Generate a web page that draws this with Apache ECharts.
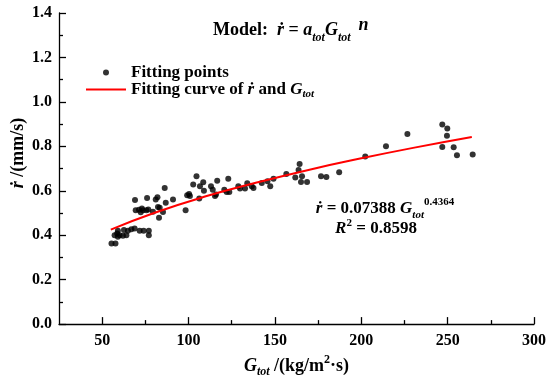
<!DOCTYPE html>
<html><head><meta charset="utf-8">
<script src="https://cdn.jsdelivr.net/npm/echarts@6/dist/echarts.min.js"></script>
<style>html,body{margin:0;padding:0;background:#fff}#c{width:550px;height:383px}</style>
</head><body><div id="c"></div>
<script>
// Scatter data: G_tot (kg/m2 s) and r-dot (mm/s)
const pointsG = [55.4,57.7,59.1,60.1,62.0,64.0,64.9,66.9,68.8,71.7,74.0,77.0,77.0,69.0,69.4,71.3,73.6,75.6,76.0,76.7,79.4,81.0,82.0,82.9,83.3,86.2,86.8,
  57.2,58.7,62.6,59.1,72.3,73.0,85.2,82.3,
  91.0,98.3,99.2,100.8,100.3,102.7,104.6,106.2,106.6,108.5,108.9,113.0,114.0,115.9,116.6,115.3,123.0,120.7,122.1,123.6,128.8,129.8,132.7,134.0,136.6,137.6,142.4,145.7,147.3,149.2,156.6,
  161.8,164.3,163.7,165.7,165.1,168.6,176.7,179.8,187.2,202.3,214.3,226.7,246.9,249.8,249.6,246.9,253.5,255.4,264.5];
const pointsR = [0.363,0.363,0.420,0.400,0.398,0.400,0.420,0.427,0.430,0.420,0.420,0.420,0.400,0.558,0.512,0.515,0.512,0.512,0.568,0.516,0.506,0.561,0.571,0.479,0.524,0.613,0.546,
  0.400,0.408,0.423,0.393,0.503,0.520,0.505,0.527,
  0.561,0.512,0.580,0.576,0.586,0.628,0.665,0.565,0.620,0.638,0.600,0.620,0.605,0.583,0.645,0.576,0.654,0.605,0.595,0.595,0.620,0.610,0.610,0.634,0.620,0.613,0.635,0.643,0.620,0.654,0.675,
  0.660,0.720,0.693,0.665,0.640,0.640,0.665,0.662,0.683,0.754,0.800,0.855,0.898,0.880,0.848,0.797,0.796,0.760,0.763];
// Fitted curve read at several G values
const curveG = [55, 80, 110, 140, 170, 200, 230, 264];
const curveR = [0.425, 0.500, 0.575, 0.638, 0.695, 0.746, 0.793, 0.842];
// Tick labels
const xMajor = [50, 100, 150, 200, 250, 300];
const xMinor = [75, 125, 175, 225, 275];

const FONT = "'Liberation Serif','Times New Roman',serif";
function rich(size, small, lh) {
  return {
    i: {fontFamily: FONT, fontWeight: 'bold', fontStyle: 'italic', fontSize: size, color: '#000', lineHeight: lh},
    n: {fontFamily: FONT, fontWeight: 'bold', fontSize: size, color: '#000', lineHeight: lh},
    sub: {fontFamily: FONT, fontWeight: 'bold', fontStyle: 'italic', fontSize: small, color: '#000', verticalAlign: 'bottom', lineHeight: small},
    sup: {fontFamily: FONT, fontWeight: 'bold', fontSize: small, color: '#000', verticalAlign: 'top', lineHeight: small}
  };
}

const chart = echarts.init(document.getElementById('c'), null, {renderer: 'canvas'});
const axisLbl = {fontFamily: FONT, fontWeight: 'bold', fontSize: 16, color: '#000'};
chart.setOption({
  animation: false,
  grid: {left: 59, right: 16, top: 13, bottom: 56},
  xAxis: [{
    type: 'value', min: 25, max: 300, position: 'bottom',
    axisLine: {lineStyle: {color: '#000', width: 1.3}},
    axisTick: {inside: true, length: 7, customValues: xMajor, lineStyle: {color: '#000', width: 1.3}},
    axisLabel: Object.assign({customValues: xMajor, margin: 9}, axisLbl),
    splitLine: {show: false},
    name: '{i|G}{sub|tot}{n| /(kg/m}{sup|2}{n|·s)}', nameLocation: 'middle', nameGap: 29,
    nameTextStyle: {rich: rich(18, 12, 24)}
  }, {
    type: 'value', min: 25, max: 300, position: 'bottom',
    axisLine: {show: false},
    axisTick: {inside: true, length: 4, customValues: xMinor, lineStyle: {color: '#000', width: 1.3}},
    axisLabel: {show: false}, splitLine: {show: false}
  }],
  yAxis: {
    type: 'value', min: 0, max: 1.4, interval: 0.2,
    axisLine: {show: true, lineStyle: {color: '#000', width: 1.3}},
    axisTick: {show: true, inside: true, length: 7, lineStyle: {color: '#000', width: 1.3}},
    minorTick: {show: true, splitNumber: 2, length: 4, lineStyle: {color: '#000', width: 1.3}},
    axisLabel: Object.assign({margin: 7, formatter: v => v.toFixed(1)}, axisLbl),
    splitLine: {show: false}
  },
  legend: {
    left: 80, top: 59, orient: 'vertical', itemWidth: 40, itemHeight: 6, itemGap: 0,
    data: [{name: 'Fitting points', icon: 'circle'}, {name: 'Fitting curve', itemStyle: {opacity: 0}}],
    formatter: name => name === 'Fitting points' ? '{n|Fitting points}' : '{n|Fitting curve of }{i|ṙ}{n| and }{i|G}{sub|tot}',
    textStyle: {fontFamily: FONT, fontWeight: 'bold', fontSize: 17, color: '#000', rich: rich(17, 11, 20)}
  },
  graphic: [
    {type: 'text', x: 213, y: 30, style: {
      text: '{m|Model:  }{i|ṙ}{m| = }{i|a}{sub|tot}{i|G}{sub|tot}{s|n}',
      textVerticalAlign: 'middle',
      rich: Object.assign(rich(18, 12, 28), {
        m: {fontFamily: FONT, fontWeight: 'bold', fontSize: 18, color: '#000', lineHeight: 28},
        s: {fontFamily: FONT, fontWeight: 'bold', fontStyle: 'italic', fontSize: 18, color: '#000', verticalAlign: 'top', lineHeight: 15, padding: [0, 0, 0, 8]}
      })
    }},
    {type: 'text', x: 385, y: 209, style: {
      text: '{i|ṙ}{n| = 0.07388 }{i|G}{sub|tot}{sup|0.4364}', textAlign: 'center', textVerticalAlign: 'middle', rich: rich(17, 11, 24)}},
    {type: 'text', x: 376, y: 229, style: {
      text: '{i|R}{sup|2}{n| = 0.8598}', textAlign: 'center', textVerticalAlign: 'middle', rich: rich(17, 11, 22)}},
    {type: 'text', x: 18, y: 153, rotation: Math.PI / 2, style: {
      text: '{i|ṙ}{n| /(mm/s)}', textAlign: 'center', textVerticalAlign: 'middle', rich: rich(18, 12, 22)}}
  ],
  series: [{
    name: 'Fitting points', type: 'scatter', symbol: 'circle', symbolSize: 6,
    itemStyle: {color: '#000'},
    data: pointsG.map((g, i) => [g, pointsR[i]])
  }, {
    name: 'Fitting curve', type: 'line', smooth: true, showSymbol: false, symbol: 'none',
    lineStyle: {color: '#ff0000', width: 2}, itemStyle: {color: '#ff0000'},
    data: curveG.map((g, i) => [g, curveR[i]])
  }]
});
</script></body></html>
